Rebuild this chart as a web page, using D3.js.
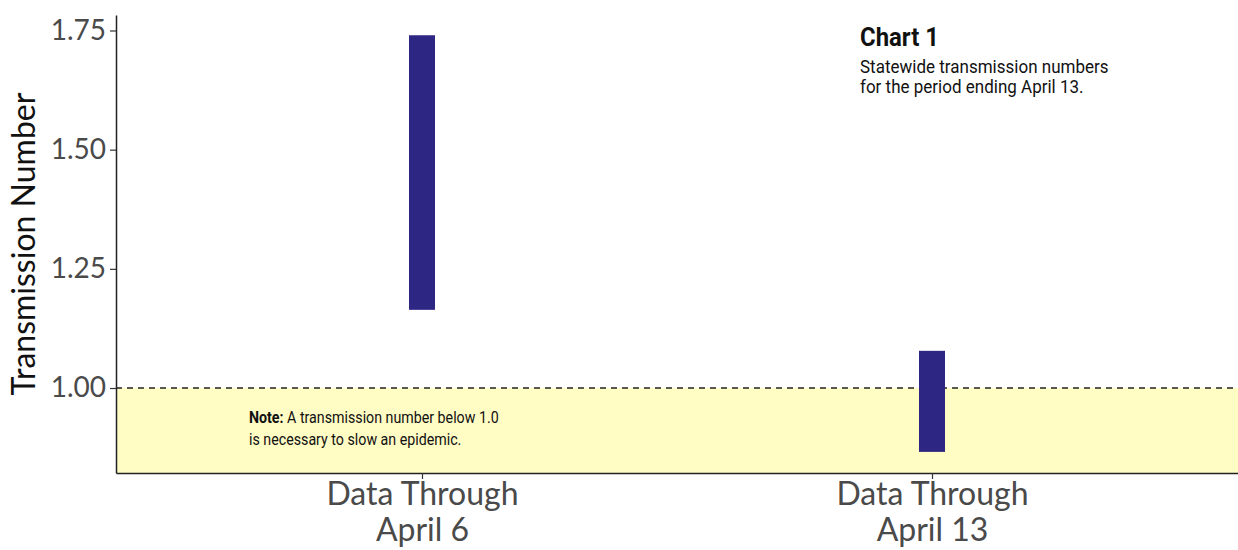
<!DOCTYPE html>
<html>
<head>
<meta charset="utf-8">
<script src="https://cdn.jsdelivr.net/npm/d3@7"></script>
<style>
  body { margin: 0; background: #fff; }
  svg { display: block; }
</style>
</head>
<body>
<script>
const categories = ['Data Through\nApril 6', 'Data Through\nApril 13'];
const lowValues = [1.164, 0.866];
const highValues = [1.740, 1.078];
const yTicks = [1.0, 1.25, 1.5, 1.75];
const threshold = 1.0;

const W = 1238, H = 550;
const margin = { left: 116, right: 0, top: 15, bottom: 77 };
const tickFont = 'Lato, "Open Sans", sans-serif';
const noteFont = 'Roboto, "Liberation Sans", sans-serif';

const svg = d3.select('body').append('svg')
  .attr('width', W)
  .attr('height', H);

const x = d3.scalePoint()
  .domain(categories)
  .range([margin.left, W - margin.right])
  .padding(0.6);

const y = d3.scaleLinear()
  .domain([0.8217, 1.7825])
  .range([H - margin.bottom, margin.top]);

const bars = categories.map((c, i) => ({ cat: c, lo: lowValues[i], hi: highValues[i] }));

// shaded region below 1.0
svg.append('rect')
  .attr('x', margin.left)
  .attr('y', y(threshold))
  .attr('width', W - margin.right - margin.left)
  .attr('height', y.range()[0] - y(threshold))
  .attr('fill', '#fffcc4');

// dashed reference line
svg.append('line')
  .attr('x1', margin.left)
  .attr('x2', W - margin.right)
  .attr('y1', y(threshold))
  .attr('y2', y(threshold))
  .attr('stroke', '#222')
  .attr('stroke-width', 1.5)
  .attr('stroke-dasharray', '6 5');

// bars
const barW = x.step() * 0.051;
svg.selectAll('rect.bar')
  .data(bars)
  .join('rect')
  .attr('class', 'bar')
  .attr('x', (d) => x(d.cat) - barW / 2)
  .attr('y', (d) => y(d.hi))
  .attr('width', barW)
  .attr('height', (d) => y(d.lo) - y(d.hi))
  .attr('fill', '#2d2683');

// y axis
const yAxis = svg.append('g')
  .attr('transform', `translate(${margin.left},0)`)
  .call(d3.axisLeft(y).tickValues(yTicks).tickFormat(d3.format('.2f'))
    .tickSizeInner(6).tickSizeOuter(0).tickPadding(4));
yAxis.select('.domain').attr('stroke', '#222').attr('stroke-width', 1.5);
yAxis.selectAll('.tick line').attr('stroke', '#333').attr('stroke-width', 1.2);
yAxis.selectAll('.tick text')
  .attr('font-family', tickFont)
  .attr('font-size', 28)
  .attr('fill', '#4a4a4a');

// x axis
const xAxis = svg.append('g')
  .attr('transform', `translate(0,${y.range()[0]})`)
  .call(d3.axisBottom(x).tickSizeInner(6).tickSizeOuter(0).tickFormat(''));
xAxis.select('.domain').attr('stroke', '#222').attr('stroke-width', 1.5);
xAxis.selectAll('.tick line').attr('stroke', '#333').attr('stroke-width', 1.2);
xAxis.selectAll('.tick')
  .append('text')
  .attr('text-anchor', 'middle')
  .attr('font-family', tickFont)
  .attr('font-size', 32)
  .attr('fill', '#4a4a4a')
  .selectAll('tspan')
  .data((d) => d.split('\n'))
  .join('tspan')
  .attr('x', 0)
  .attr('y', (d, i) => 32 + i * 36)
  .text((d) => d);

// y axis title
svg.append('text')
  .attr('transform', `translate(35,${(y.range()[0] + y.range()[1]) / 2}) rotate(-90)`)
  .attr('text-anchor', 'middle')
  .attr('font-family', tickFont)
  .attr('font-size', 32)
  .attr('fill', '#111')
  .text('Transmission Number');

// chart title block
const title = svg.append('g').attr('transform', 'translate(860,0) scale(0.92,1)');
title.append('text')
  .attr('y', 46)
  .attr('font-family', noteFont)
  .attr('font-weight', 'bold')
  .attr('font-size', 26)
  .attr('fill', '#111')
  .text('Chart 1');
title.selectAll('text.sub')
  .data(['Statewide transmission numbers', 'for the period ending April 13.'])
  .join('text')
  .attr('class', 'sub')
  .attr('y', (d, i) => 73 + i * 20.5)
  .attr('font-family', noteFont)
  .attr('font-size', 18.5)
  .attr('fill', '#111')
  .text((d) => d);

// note
const note = svg.append('g').attr('transform', 'translate(249,0) scale(0.89,1)');
const n1 = note.append('text')
  .attr('y', 423)
  .attr('font-family', noteFont)
  .attr('font-size', 16)
  .attr('fill', '#111');
n1.append('tspan').attr('font-weight', 'bold').text('Note:');
n1.append('tspan').text(' A transmission number below 1.0');
note.append('text')
  .attr('y', 445)
  .attr('font-family', noteFont)
  .attr('font-size', 16)
  .attr('fill', '#111')
  .text('is necessary to slow an epidemic.');
</script>
</body>
</html>
